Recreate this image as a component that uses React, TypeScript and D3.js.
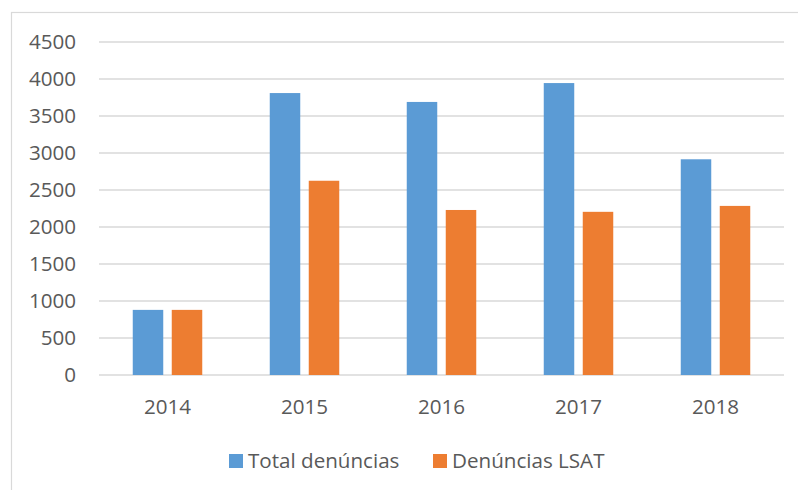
import React from "react";
import * as d3 from "d3";

const categories = ["2014", "2015", "2016", "2017", "2018"];
const totalDenuncias = [880, 3810, 3690, 3945, 2915];
const denunciasLSAT = [880, 2625, 2230, 2205, 2285];
const seriesNames = ["Total denúncias", "Denúncias LSAT"];
const yTicks = [0, 500, 1000, 1500, 2000, 2500, 3000, 3500, 4000, 4500];

const colors = ["#5B9BD5", "#ED7D31"];
const font = "'Open Sans', sans-serif";

export default function App() {
  const W = 798, H = 490;
  const left = 99, right = 784, top = 42, bottom = 375;
  const x = d3.scaleBand<string>().domain(categories).range([left, right]).paddingInner(0).paddingOuter(0);
  const y = d3.scaleLinear().domain([0, 4500]).range([bottom, top]);
  const barW = 30.5, gap = 8.5;
  const series = [totalDenuncias, denunciasLSAT];
  const fs = 20.6;
  return (
    <svg width={W} height={H} style={{ position: "absolute", left: 0, top: 0 }} fontFamily={font}>
      <rect x={0} y={0} width={W} height={H} fill="#fff" />
      <rect x={11.5} y={12.5} width={W} height={H} fill="none" stroke="#D9D9D9" strokeWidth={1.2} />
      {yTicks.map((t) => (
        <g key={t}>
          <line x1={left} x2={right} y1={y(t)} y2={y(t)} stroke="#D9D9D9" strokeWidth={1.3} />
          <text x={76} y={y(t)} dy="0.36em" textAnchor="end" fontSize={fs} fill="#595959">{t}</text>
        </g>
      ))}
      {categories.map((c, i) => {
        const cx = x(c)! + x.bandwidth() / 2;
        return (
          <g key={c}>
            {series.map((s, j) => {
              const bx = j === 0 ? cx - gap / 2 - barW : cx + gap / 2;
              return <rect key={j} x={bx} y={y(s[i])} width={barW} height={bottom - y(s[i])} fill={colors[j]} />;
            })}
            <text x={cx} y={407} dy="0.36em" textAnchor="middle" fontSize={fs} fill="#595959">{c}</text>
          </g>
        );
      })}
      {seriesNames.map((n, j) => {
        const lx = j === 0 ? 229 : 433;
        return (
          <g key={n}>
            <rect x={lx} y={454} width={14} height={14} fill={colors[j]} />
            <text x={lx + 19} y={461} dy="0.36em" fontSize={fs} fill="#595959">{n}</text>
          </g>
        );
      })}
    </svg>
  );
}
